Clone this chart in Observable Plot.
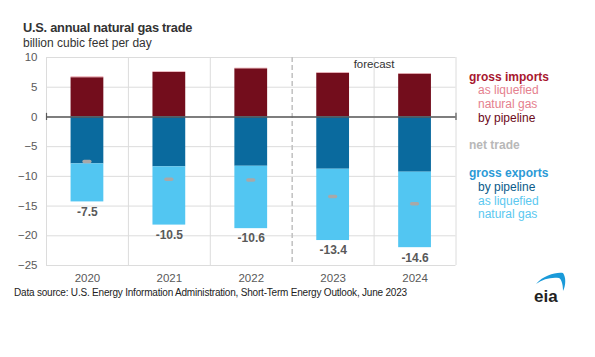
<!DOCTYPE html>
<html>
<head>
<meta charset="utf-8">
<script src="https://cdn.jsdelivr.net/npm/d3@7"></script>
<script src="https://cdn.jsdelivr.net/npm/@observablehq/plot@0.6"></script>
<style>
  body { margin: 0; background: #fff; font-family: Arial, "Liberation Sans", sans-serif; }
  #wrap { position: relative; width: 595px; height: 357px; overflow: hidden; }
  .abs { position: absolute; white-space: nowrap; }
  #title { left: 23px; top: 20px; font-size: 12.8px; letter-spacing: -0.25px; font-weight: bold; color: #333; }
  #subtitle { left: 23px; top: 36px; font-size: 12px; color: #333; }
  #chart { left: 0; top: 50px; }
  #caption { left: 14px; top: 287px; font-size: 10px; letter-spacing: -0.2px; color: #222; }
  #legend { left: 469px; top: 70.5px; font-size: 12px; line-height: 13.8px; }
  #legend .h { font-weight: bold; }
  #legend .s { padding-left: 9px; }
  #logo { left: 530px; top: 269px; }
</style>
</head>
<body>
<div id="wrap">
  <div id="title" class="abs">U.S. annual natural gas trade</div>
  <div id="subtitle" class="abs">billion cubic feet per day</div>
  <div id="chart" class="abs"></div>
  <div id="legend" class="abs"></div>
  <div id="caption" class="abs">Data source: U.S. Energy Information Administration, Short-Term Energy Outlook, June 2023</div>
  <svg id="logo" class="abs" width="50" height="40" viewBox="0 0 50 40">
    <path d="M6,15 C14,6 26,3 33,4 C36,8 36,16 33,22 C33,14 31,10 29,9 C21,8 13,10 6,15 Z" fill="#1a9ad9"/>
    <text x="4" y="33" font-family="Arial, Liberation Sans, sans-serif" font-weight="bold" font-size="17" fill="#222">eia</text>
  </svg>
</div>
<script>
const years = ["2020", "2021", "2022", "2023", "2024"];
const importPipeline = [6.6, 7.5, 8.1, 7.35, 7.2];
const importLNG = [0.15, 0.1, 0.1, 0.1, 0.1];
const exportPipeline = [7.9, 8.4, 8.3, 8.8, 9.3];
const exportLNG = [6.4, 9.8, 10.5, 12.0, 12.7];
const netTrade = [-7.5, -10.5, -10.6, -13.4, -14.6];
const netLabels = ["-7.5", "-10.5", "-10.6", "-13.4", "-14.6"];
const yTicks = [10, 5, 0, -5, -10, -15, -20, -25];
const forecastStart = 3; // index of first forecast year

const colors = {
  importPipeline: "#730d1c",
  importLNG: "#e9a3ab",
  exportPipeline: "#0a6a9e",
  exportLNG: "#52c6f2"
};

const segs = [];
years.forEach((y, i) => {
  const ip = importPipeline[i], il = importLNG[i], ep = exportPipeline[i], el = exportLNG[i];
  segs.push({i, y1: 0, y2: ip, k: "importPipeline"});
  segs.push({i, y1: ip, y2: ip + il, k: "importLNG"});
  segs.push({i, y1: 0, y2: -ep, k: "exportPipeline"});
  segs.push({i, y1: -ep, y2: -ep - el, k: "exportLNG"});
});
const bottoms = years.map((y, i) => ({i, y: -(exportPipeline[i] + exportLNG[i]), label: netLabels[i]}));
const nets = years.map((y, i) => ({i, y: netTrade[i]}));
const idx = years.map((y, i) => i);
const boundaries = d3.range(-0.5, years.length, 1).filter(b => b !== forecastStart - 0.5);

const half = 0.2;
const plot = Plot.plot({
  width: 595,
  height: 240,
  marginLeft: 46,
  marginRight: 139.5,
  marginTop: 7,
  marginBottom: 25,
  style: {fontFamily: "Arial, 'Liberation Sans', sans-serif", fontSize: "11.5px", color: "#595959", background: "transparent"},
  x: {domain: [-0.5, years.length - 0.5], ticks: idx, tickFormat: i => years[i], tickSize: 0, tickPadding: 8, label: null},
  y: {domain: [-25, 10], ticks: yTicks, tickSize: 0, tickPadding: 9, label: null},
  marks: [
    Plot.ruleY(yTicks, {stroke: "#dcdcdc", strokeWidth: 1}),
    Plot.ruleX(boundaries, {stroke: "#dcdcdc", strokeWidth: 1}),
    Plot.ruleX([forecastStart - 0.5], {stroke: "#c4c4c4", strokeWidth: 1.6, strokeDasharray: "5,3"}),
    Plot.rect(segs, {
      x1: d => d.i - half, x2: d => d.i + half, y1: "y1", y2: "y2",
      fill: d => colors[d.k]
    }),
    Plot.ruleY([0], {stroke: "#595959", strokeWidth: 1.5}),
    Plot.ruleX([-0.5, years.length - 0.5], {y1: -0.6, y2: 0.6, stroke: "#595959", strokeWidth: 1.2}),
    Plot.ruleY(nets, {y: "y", x1: d => d.i - 0.035, x2: d => d.i + 0.035, stroke: "#a8a8a8", strokeWidth: 3.5, strokeLinecap: "round"}),
    Plot.text(bottoms, {x: "i", y: "y", text: "label", dy: 10, fontWeight: "bold", fontSize: 12, fill: "#595959"}),
    Plot.text(["forecast"], {x: (forecastStart + years.length - 1) / 2, y: 10, dy: 7, fill: "#333", fontSize: 11.5})
  ]
});
document.getElementById("chart").appendChild(plot);

const legendItems = [
  {t: "gross imports", c: "#a8172f", h: true},
  {t: "as liquefied", c: "#e5808e"},
  {t: "natural gas", c: "#e5808e"},
  {t: "by pipeline", c: "#6d0b1b"},
  {t: "", c: "#fff"},
  {t: "net trade", c: "#b8b8b8", h: true},
  {t: "", c: "#fff"},
  {t: "gross exports", c: "#2b9ad6", h: true},
  {t: "by pipeline", c: "#0b5b8a"},
  {t: "as liquefied", c: "#5bc8f0"},
  {t: "natural gas", c: "#5bc8f0"}
];
const lg = document.getElementById("legend");
legendItems.forEach(it => {
  const d = document.createElement("div");
  d.className = it.h ? "h" : "s";
  d.style.color = it.c;
  d.innerHTML = it.t || "&nbsp;";
  lg.appendChild(d);
});
</script>
</body>
</html>
